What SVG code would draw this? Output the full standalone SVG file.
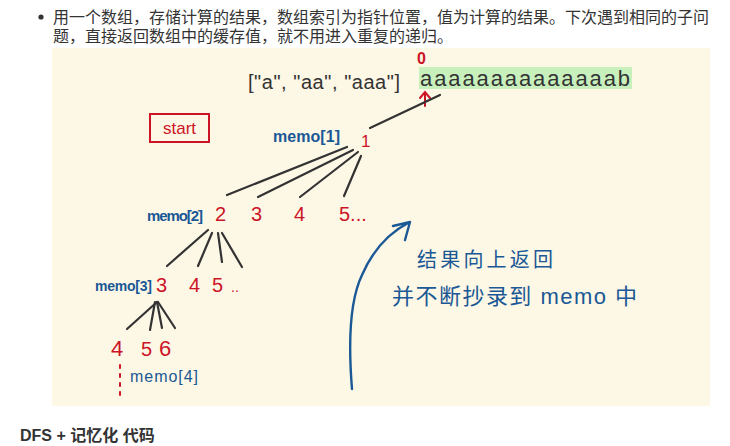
<svg xmlns="http://www.w3.org/2000/svg" width="730" height="446" viewBox="0 0 730 446">
<style>
.doc{font-family:"Liberation Sans","Noto Sans CJK SC",sans-serif;fill:#333;font-size:16px}
.red{fill:#cc1427;font-family:"Liberation Sans","Noto Sans CJK SC",sans-serif}
.blue{fill:#1a5896;font-family:"Liberation Sans","Noto Sans CJK SC",sans-serif}
.ink{fill:#333;font-family:"Liberation Sans","Noto Sans CJK SC",sans-serif}
.edge{stroke:#333;stroke-width:2.2;stroke-linecap:round;fill:none}
</style>
<rect width="730" height="446" fill="#fff"/>
<g id="doc-text">
<circle cx="41" cy="17" r="2.6" fill="#333"/>
<text class="doc" x="53" y="23" textLength="656">用一个数组，存储计算的结果，数组索引为指针位置，值为计算的结果。下次遇到相同的子问</text>
<text class="doc" x="53" y="42">题，直接返回数组中的缓存值，就不用进入重复的递归。</text>
<text class="doc" x="20" y="441" font-weight="bold">DFS + 记忆化 代码</text>
</g>
<rect id="panel" x="52" y="48" width="658" height="358" fill="#fdf7e5"/>
<g id="words">
<text class="ink" x="248" y="89" font-size="20" textLength="152">["a", "aa", "aaa"]</text>
<text class="red" x="417" y="64" font-size="16" font-weight="bold">0</text>
<rect x="419" y="67" width="213" height="22" fill="#c8f0bd"/>
<text class="ink" x="420" y="86" font-size="22" textLength="210">aaaaaaaaaaaaaab</text>
<path d="M425 106 V92 M420 98 L425 92 L430 98" stroke="#cc1427" stroke-width="2" fill="none" stroke-linecap="round"/>
</g>
<g id="start">
<rect x="150" y="114" width="59" height="28" fill="none" stroke="#cc1427" stroke-width="2"/>
<text class="red" x="179.5" y="134" font-size="17" text-anchor="middle">start</text>
</g>
<g id="node-1">
<text class="blue" x="273" y="142" font-size="16" font-weight="bold" textLength="67">memo[1]</text>
<text class="red" x="361" y="147" font-size="17">1</text>
</g>
<g id="node-2">
<text class="blue" x="147" y="221" font-size="15" font-weight="bold" textLength="56">memo[2]</text>
<text class="red" x="215" y="221" font-size="20">2</text>
<text class="red" x="251" y="221" font-size="20">3</text>
<text class="red" x="294" y="221" font-size="20">4</text>
<text class="red" x="339" y="221" font-size="20">5...</text>
</g>
<g id="node-3">
<text class="blue" x="95" y="291" font-size="14" font-weight="bold" textLength="57">memo[3]</text>
<text class="red" x="156" y="292" font-size="20">3</text>
<text class="red" x="189" y="292" font-size="20">4</text>
<text class="red" x="212" y="292" font-size="20">5</text>
<text class="red" x="231" y="292" font-size="14">..</text>
</g>
<g id="node-4">
<text class="red" x="111" y="356" font-size="22">4</text>
<text class="red" x="141" y="356" font-size="20">5</text>
<text class="red" x="159" y="356" font-size="22">6</text>
<path d="M120 365 V398" stroke="#cc1427" stroke-width="2" stroke-dasharray="3 6" stroke-linecap="round"/>
<text class="blue" x="130" y="382" font-size="16" textLength="68">memo[4]</text>
</g>
<g id="connectors">
<path class="edge" d="M370 128 L440 95"/>
<path class="edge" d="M347 147 L227 195"/>
<path class="edge" d="M353 150 L258 197"/>
<path class="edge" d="M358 152 L300 197"/>
<path class="edge" d="M361 156 L344 196"/>
<path class="edge" d="M208 230 L167 266"/>
<path class="edge" d="M212 233 L198 266"/>
<path class="edge" d="M218 233 L222 262"/>
<path class="edge" d="M222 233 L242 267"/>
<path class="edge" d="M157 302 L127 329"/>
<path class="edge" d="M155 302 L150 330"/>
<path class="edge" d="M157 302 L162 328"/>
<path class="edge" d="M158 302 L175 328"/>
<path d="M352 389 C348 340 350 300 362 275 C372 252 388 233 410 222 M393 226 L410 222 L405 240" stroke="#1a5896" stroke-width="2.4" fill="none" stroke-linecap="round" stroke-linejoin="round"/>
</g>
<g id="note">
<text class="blue" x="417" y="267" font-size="20" textLength="136">结果向上返回</text>
<text class="blue" x="392" y="304" font-size="22" textLength="245">并不断抄录到 memo 中</text>
</g>
</svg>
